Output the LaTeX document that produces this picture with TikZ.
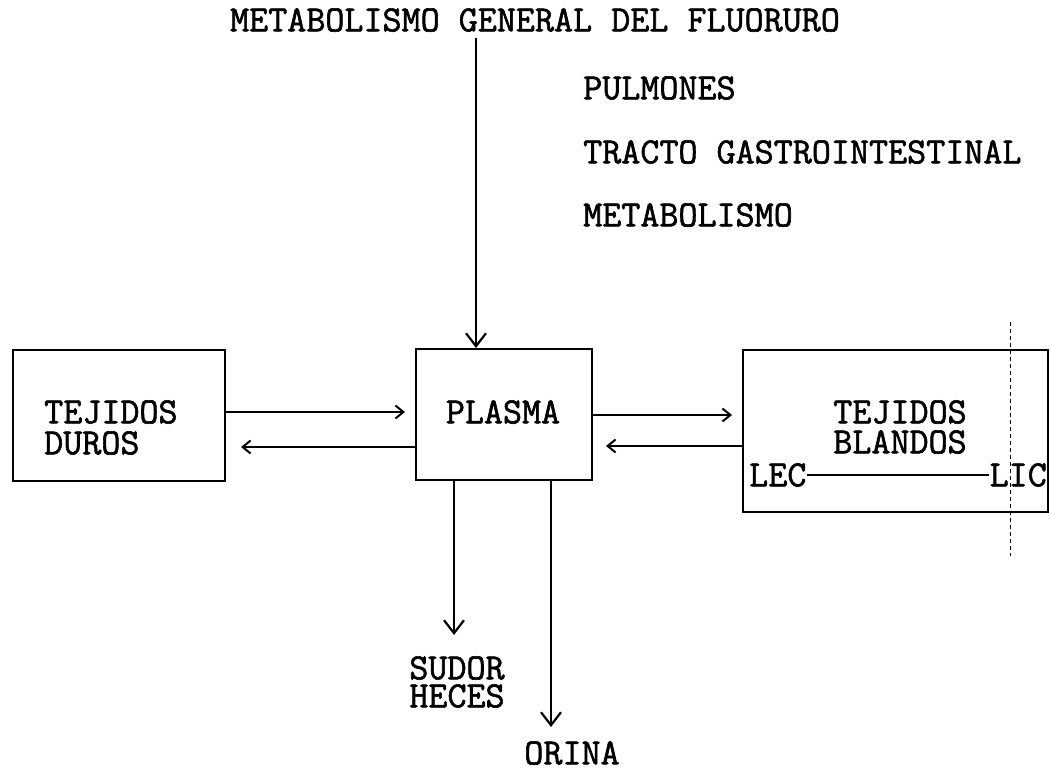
\documentclass[tikz,border=0pt]{standalone}
\usepackage{fontspec}
\newfontfamily\tw[FakeBold=1.6]{Latin Modern Mono}
\usetikzlibrary{arrows.meta}
\begin{document}
\begin{tikzpicture}[x=1pt,y=-1pt,
  lbl/.style={font=\tw\fontsize{37}{30}\selectfont, inner sep=0pt},
  box/.style={draw, line width=2pt, inner sep=0pt},
  conn/.style={line width=2pt},
  harr/.style={conn, -{Straight Barb[length=8pt,width=13pt,line width=2pt]}},
  varr/.style={conn, -{Straight Barb[length=13pt,width=20pt,line width=2.2pt]}},
  dashline/.style={line width=0.9pt, dash pattern=on 4pt off 3pt}]
\useasboundingbox (0,0) rectangle (1051,778);

% title and inputs
\node[lbl] (title) at (535,20) {METABOLISMO GENERAL DEL FLUORURO};
\node[lbl, anchor=west] (pulm) at (583,88) {PULMONES};
\node[lbl, anchor=west] (tracto) at (583,152) {TRACTO GASTROINTESTINAL};
\node[lbl, anchor=west] (metab) at (583,215) {METABOLISMO};

% boxes
\node[box, minimum width=212pt, minimum height=131pt] (duros) at (119,415.5) {};
\node[box, minimum width=176pt, minimum height=131pt] (plasma) at (504,414.5) {};
\node[box, minimum width=305pt, minimum height=162pt] (blandos) at (895.5,431) {};

\node[lbl, anchor=west] (durost1) at (44,412) {TEJIDOS};
\node[lbl, anchor=west] (durost2) at (44,443) {DUROS};
\node[lbl] (plasmat) at (503,412) {PLASMA};
\node[lbl] (blandost1) at (900,412) {TEJIDOS};
\node[lbl] (blandost2) at (900,442) {BLANDOS};
\node[lbl, anchor=west] (lec) at (749,475) {LEC};
\node[lbl, anchor=east] (lic) at (1047,475) {LIC};
\draw[conn] (lec.east) -- (lic.west);

% top input arrow
\coordinate (topstart) at (476,38);
\draw[varr] (topstart) -- (topstart |- plasma.north);

% exchanges with hard tissues
\draw[harr, shorten >=10pt] (duros.east |- 0,412) -- (plasma.west |- 0,412);
\draw[harr, shorten >=15pt] (plasma.west |- 0,447) -- (duros.east |- 0,447);

% exchanges with soft tissues
\draw[harr, shorten >=10pt] (plasma.east |- 0,415) -- (blandos.west |- 0,415);
\draw[harr, shorten >=13pt] (blandos.west |- 0,446) -- (plasma.east |- 0,446);

% outputs
\coordinate (sudorend) at (454,635);
\coordinate (orinaend) at (551,727);
\draw[varr] (sudorend |- plasma.south) -- (sudorend);
\draw[varr] (orinaend |- plasma.south) -- (orinaend);
\node[lbl] (sudor) at (457,668) {SUDOR};
\node[lbl] (heces) at (457,696) {HECES};
\node[lbl] (orina) at (572,753) {ORINA};

% scan mark
\coordinate (dtop) at (1010,322);
\coordinate (dbot) at (1010,556);
\draw[dashline] (dtop) -- (dbot);
\end{tikzpicture}
\end{document}
